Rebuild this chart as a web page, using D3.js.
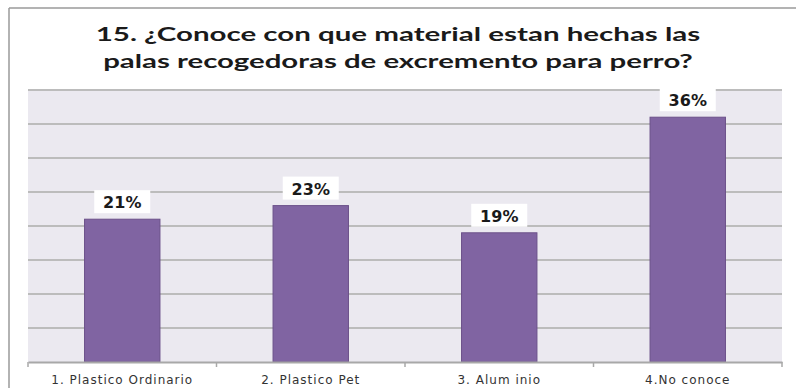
<!DOCTYPE html>
<html><head><meta charset="utf-8">
<script src="https://cdn.jsdelivr.net/npm/d3@7"></script>
<style>html,body{margin:0;padding:0;background:#fff;}svg{display:block;}</style>
</head><body>
<svg id="chart" width="796" height="388"></svg>
<script>
const titleLines = ["15. ¿Conoce con que material estan hechas las", "palas recogedoras de excremento para perro?"];
const categories = ["1. Plastico Ordinario", "2. Plastico Pet", "3. Alum inio", "4.No conoce"];
const values = [21, 23, 19, 36];
const yTicks = [5, 10, 15, 20, 25, 30, 35, 40];

const svg = d3.select("#chart");
const W = 796, H = 388;
const plot = {left: 28, right: 782, top: 90, bottom: 362};

// outer border (left and top)
svg.append("line").attr("x1", 9).attr("x2", 9).attr("y1", 8).attr("y2", H).attr("stroke", "#9a9a9a").attr("stroke-width", 1.5);
svg.append("line").attr("x1", 9).attr("x2", W).attr("y1", 8).attr("y2", 8).attr("stroke", "#9a9a9a").attr("stroke-width", 1.5);

// title (horizontally stretched like the reference)
const tBase = [41, 68];
const tWidth = [605, 590];
titleLines.forEach((t, i) => {
  const g = svg.append("g").attr("transform", `translate(398,${tBase[i]})`);
  const tx = g.append("text").attr("x", 0).attr("y", 0).attr("text-anchor", "middle")
    .attr("font-family", "Lato, 'Open Sans', sans-serif").attr("font-weight", "bold")
    .attr("font-size", 19).attr("fill", "#1a1a1a").text(t);
  const w = tx.node().getComputedTextLength();
  g.attr("transform", `translate(398,${tBase[i]}) scale(${tWidth[i] / w},1)`);
});

const x = d3.scaleBand().domain(categories).range([plot.left, plot.right]).padding(0);
const y = d3.scaleLinear().domain([0, 40]).range([plot.bottom, plot.top]);

// plot background
svg.append("rect").attr("x", plot.left).attr("y", plot.top).attr("width", plot.right - plot.left)
  .attr("height", plot.bottom - plot.top).attr("fill", "#ebe9f0");

// gridlines
svg.append("g").selectAll("line").data(yTicks).join("line")
  .attr("x1", plot.left).attr("x2", plot.right)
  .attr("y1", d => y(d)).attr("y2", d => y(d))
  .attr("stroke", "#bcbcbc").attr("stroke-width", 2);

// bars
const bw = x.bandwidth() * 0.4;
svg.append("g").selectAll("rect").data(values).join("rect")
  .attr("x", (d, i) => x(categories[i]) + (x.bandwidth() - bw) / 2)
  .attr("y", d => y(d)).attr("width", bw).attr("height", d => y(0) - y(d))
  .attr("fill", "#8064a2").attr("stroke", "#6b5089").attr("stroke-width", 1);

// x axis
const xAxis = d3.axisBottom(x).tickSize(0).tickFormat("");
const ax = svg.append("g").attr("transform", `translate(0,${plot.bottom})`).call(xAxis);
ax.select(".domain").attr("stroke", "#a8a8a8").attr("stroke-width", 2);
const bounds = categories.map(c => x(c)).concat([plot.right]);
svg.append("g").selectAll("line").data(bounds).join("line")
  .attr("x1", d => d).attr("x2", d => d).attr("y1", plot.bottom).attr("y2", plot.bottom + 5)
  .attr("stroke", "#a8a8a8").attr("stroke-width", 1.5);

// category labels
svg.append("g").selectAll("text").data(categories).join("text")
  .attr("x", d => x(d) + x.bandwidth() / 2).attr("y", 384).attr("text-anchor", "middle")
  .attr("font-family", "'DejaVu Sans', Verdana, sans-serif").attr("font-size", 12)
  .attr("letter-spacing", 1).attr("fill", "#333").text(d => d);

// value labels
const lab = svg.append("g").selectAll("g").data(values).join("g")
  .attr("transform", (d, i) => `translate(${x(categories[i]) + x.bandwidth() / 2},${y(d) - 6})`);
lab.append("rect").attr("x", -28).attr("y", -23).attr("width", 56).attr("height", 23).attr("fill", "#fff");
lab.append("text").attr("y", -5).attr("text-anchor", "middle")
  .attr("font-family", "'DejaVu Sans', Verdana, sans-serif").attr("font-weight", "bold")
  .attr("font-size", 16).attr("fill", "#1a1a1a").text(d => d + "%");
</script>
</body></html>
